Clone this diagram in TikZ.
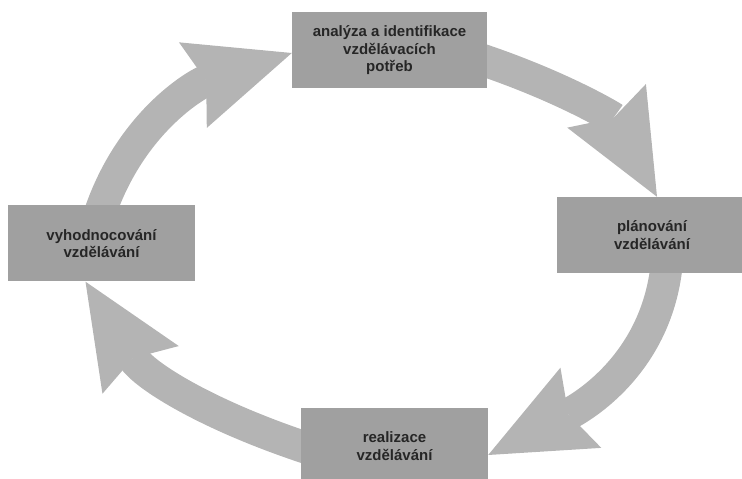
\documentclass[tikz,border=0pt]{standalone}
\usepackage{fontspec}
\setmainfont{Liberation Sans}
\usetikzlibrary{arrows.meta,calc,backgrounds}
\definecolor{boxgray}{RGB}{160,160,160}
\definecolor{arrgray}{RGB}{180,180,180}
\definecolor{txtgray}{RGB}{38,38,38}
\begin{document}
\begin{tikzpicture}[x=1pt,y=1pt,
  stage/.style={rectangle, fill=boxgray, draw=none, minimum height=76pt, align=center,
    font=\fontsize{15}{17.5}\selectfont\bfseries, text=txtgray, inner sep=0pt},
  cyc/.style={draw=arrgray, line width=32pt,
    -{Stealth[length=104pt,width=90pt,inset=14pt,line width=0pt,fill=arrgray]}}]
\useasboundingbox (0,0) rectangle (742,479);
\clip (0,0) rectangle (742,479);
\node[stage, minimum width=195pt] (top) at (389.5,428.5) {analýza a identifikace\\vzdělávacích\\potřeb};
\node[stage, minimum width=190pt] (right) at (652,244) {plánování\\vzdělávání};
\node[stage, minimum width=187pt] (bottom) at (394.5,33) {realizace\\vzdělávání};
\node[stage, minimum width=187pt] (left) at (101.5,235.5) {vyhodnocování\\vzdělávání};
\begin{scope}[on background layer]
\draw[cyc] ($(top.east)+(-15,-6)$) to[out=-18,in=119] ($(right.north)+(5,0)$);
\draw[cyc] ($(right.south)+(15,12)$) to[out=-95,in=27] ($(bottom.east)+(0,-9)$);
\draw[cyc] ($(bottom.west)+(12,-4)$) to[out=162,in=-58] ($(left.south)+(-16,0)$);
\draw[cyc] ($(left.north)+(-3,-12)$) to[out=72,in=198] ($(top.west)+(0,-2.5)$);
\end{scope}
\end{tikzpicture}
\end{document}
